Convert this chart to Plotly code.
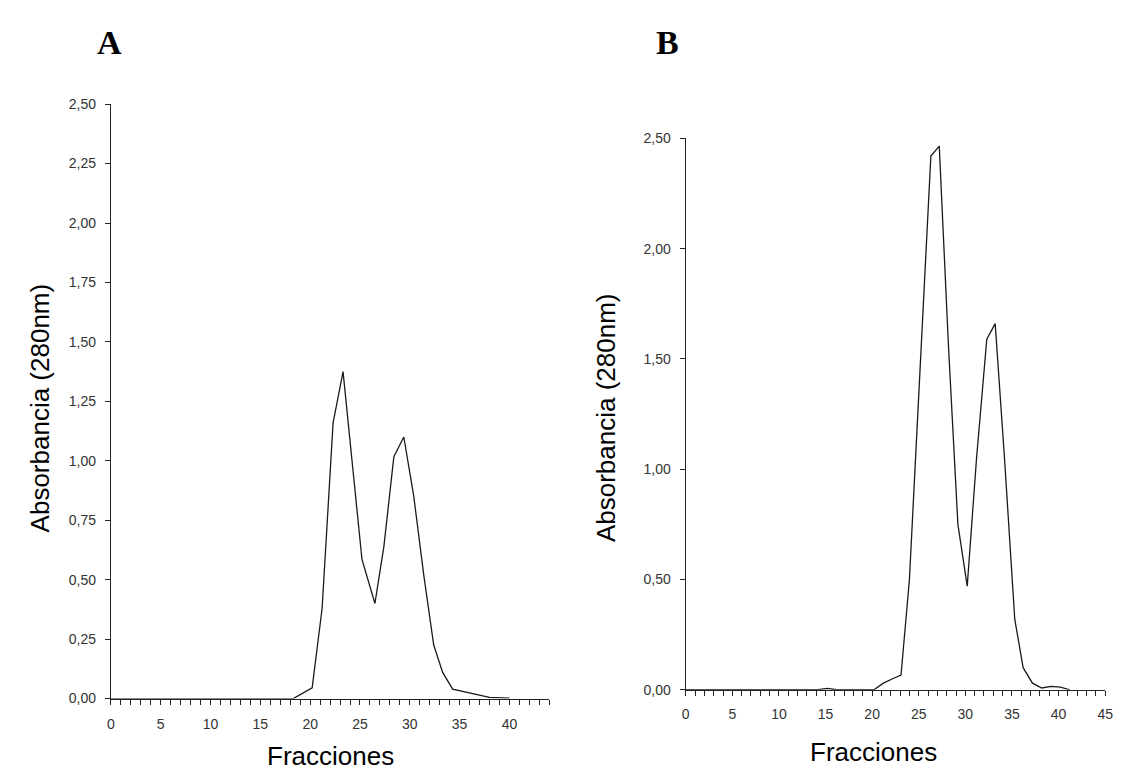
import plotly.graph_objects as go

# Panel A data (fraction, absorbance 280 nm)
a_frac = [0, 18.3, 20.2, 21.2, 22.3, 23.3, 24.2, 25.2, 26.5, 27.4, 28.4, 29.4, 30.4, 31.4, 32.4, 33.3, 34.3, 35.7, 37.4, 38.0, 40.0]
a_abs = [0, 0, 0.045, 0.38, 1.16, 1.375, 1.00, 0.585, 0.40, 0.64, 1.017, 1.10, 0.85, 0.52, 0.225, 0.11, 0.04, 0.026, 0.012, 0.005, 0.002]

# Panel B data
b_frac = [0, 14.2, 15.2, 16.2, 20.2, 21.2, 22.2, 23.1, 24.0, 25.1, 26.3, 27.2, 28.2, 29.2, 30.2, 31.2, 32.3, 33.2, 34.2, 35.3, 36.2, 37.2, 38.2, 39.2, 40.2, 41.2]
b_abs = [0, 0, 0.006, 0, 0, 0.03, 0.05, 0.067, 0.50, 1.40, 2.42, 2.465, 1.55, 0.75, 0.47, 1.05, 1.59, 1.66, 1.05, 0.32, 0.10, 0.03, 0.008, 0.015, 0.012, 0.0]

a_yticks = [0, 0.25, 0.5, 0.75, 1.0, 1.25, 1.5, 1.75, 2.0, 2.25, 2.5]
b_yticks = [0, 0.5, 1.0, 1.5, 2.0, 2.5]
a_xmax = 44
b_xmax = 45
panel_labels = ["A", "B"]
y_title = "Absorbancia (280nm)"
x_title = "Fracciones"

W, H = 1121, 773


def px_x(p):
    return p / W


def px_y(p):
    return 1 - p / H


def xticks(nmax):
    vals = list(range(0, nmax + 1))
    text = [str(v) if v % 5 == 0 else "" for v in vals]
    return vals, text


fig = go.Figure()
line_style = dict(color="#1a1a1a", width=1.3)
fig.add_trace(go.Scatter(x=a_frac, y=a_abs, mode="lines", line=line_style,
                         xaxis="x", yaxis="y", showlegend=False))
fig.add_trace(go.Scatter(x=b_frac, y=b_abs, mode="lines", line=line_style,
                         xaxis="x2", yaxis="y2", showlegend=False))

tickfont = dict(family="Liberation Sans, Arial, sans-serif", size=14, color="#333333")
axis_common = dict(showgrid=False, zeroline=False, showline=True, linecolor="#222222",
                   linewidth=1.2, ticks="outside", ticklen=5, tickwidth=1,
                   tickcolor="#222222", tickfont=tickfont, fixedrange=True)

axv, axt = xticks(a_xmax)
bxv, bxt = xticks(b_xmax)

a_x0, a_x1 = 100, 100 + a_xmax * 10.07
fig.update_layout(
    width=W, height=H,
    margin=dict(l=0, r=0, t=0, b=0),
    paper_bgcolor="white", plot_bgcolor="white",
    separators=",.",
    xaxis=dict(axis_common, domain=[px_x(a_x0), px_x(a_x1)], range=[0, a_xmax],
               tickmode="array", tickvals=axv, ticktext=axt, anchor="y",
               ticklabelstandoff=8),
    yaxis=dict(axis_common, domain=[px_y(697), px_y(90)], range=[0, 2.5],
               tickmode="array", tickvals=a_yticks, tickformat=".2f", anchor="x",
               ticklabelstandoff=6),
    xaxis2=dict(axis_common, domain=[px_x(681), px_x(1105)], range=[0, b_xmax],
                tickmode="array", tickvals=bxv, ticktext=bxt, anchor="y2",
                ticklabelstandoff=6),
    yaxis2=dict(axis_common, domain=[px_y(688), px_y(125)], range=[0, 2.5],
                tickmode="array", tickvals=b_yticks, tickformat=".2f", anchor="x2",
                ticklabelstandoff=6),
)

title_font = dict(family="Liberation Sans, Arial, sans-serif", size=26, color="#000000")
label_font = dict(family="Liberation Serif, Times New Roman, serif", size=34, color="#000000")

annotations = [
    dict(text="<b>%s</b>" % panel_labels[0], x=px_x(99), y=px_y(27), font=label_font),
    dict(text="<b>%s</b>" % panel_labels[1], x=px_x(663), y=px_y(27), font=label_font),
    dict(text=y_title, x=px_x(28), y=px_y(400), textangle=-90, font=title_font),
    dict(text=y_title, x=px_x(600), y=px_y(410), textangle=-90, font=title_font),
    dict(text=x_title, x=px_x(322), y=px_y(756), font=title_font),
    dict(text=x_title, x=px_x(871), y=px_y(752), font=title_font),
]
for an in annotations:
    an.update(xref="paper", yref="paper", showarrow=False, xanchor="center", yanchor="middle")
fig.update_layout(annotations=annotations)

fig.write_html("out.html")
